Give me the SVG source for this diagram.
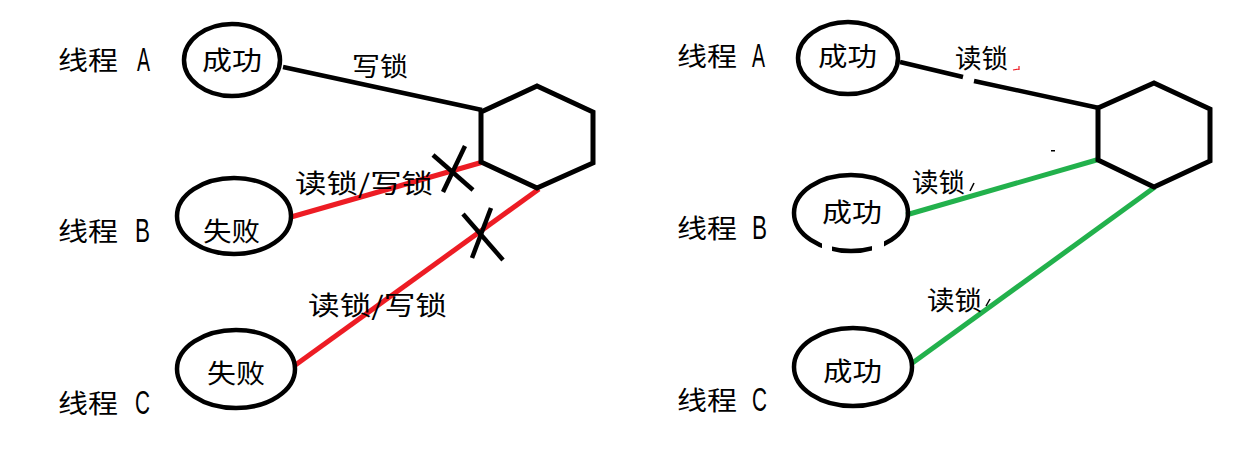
<svg xmlns="http://www.w3.org/2000/svg" width="1234" height="472" viewBox="0 0 1234 472">
<style>
.cjk{font-family:"Noto Sans CJK SC","Noto Sans",sans-serif;font-size:26px;fill:#000}
.lat{font-family:"Liberation Sans","DejaVu Sans",sans-serif;font-size:34px;fill:#000}
.node{fill:none;stroke:#000;stroke-width:4.5}
.hex{fill:none;stroke:#000;stroke-width:5;stroke-linejoin:miter}
.blk{stroke:#000;stroke-width:4.5;fill:none}
.red{stroke:#ED1C24;stroke-width:5;fill:none}
.grn{stroke:#22B14C;stroke-width:5;fill:none}
.x{stroke:#000;stroke-width:4.5;fill:none}
</style>
<rect width="1234" height="472" fill="#fff"/>

<!-- Left panel -->
<g id="left-labels">
<text class="cjk" x="58" y="70" textLength="60" lengthAdjust="spacingAndGlyphs">线程</text>
<text class="lat" x="137" y="71" textLength="13" lengthAdjust="spacingAndGlyphs">A</text>
<text class="cjk" x="58" y="241" textLength="60" lengthAdjust="spacingAndGlyphs">线程</text>
<text class="lat" x="135" y="242" textLength="15" lengthAdjust="spacingAndGlyphs">B</text>
<text class="cjk" x="58" y="413" textLength="60" lengthAdjust="spacingAndGlyphs">线程</text>
<text class="lat" x="135" y="414" textLength="15" lengthAdjust="spacingAndGlyphs">C</text>
</g>

<g id="left-connectors">
<line class="blk" x1="283" y1="67" x2="482" y2="110"/>
<line class="red" x1="291" y1="217" x2="483" y2="162"/>
<line class="red" x1="294" y1="366" x2="539" y2="189"/>
<line class="x" x1="433" y1="155" x2="473" y2="190"/>
<line class="x" x1="465" y1="146" x2="443" y2="192"/>
<line class="x" x1="463" y1="214" x2="503" y2="260"/>
<line class="x" x1="491" y1="208" x2="472" y2="258"/>
<text class="cjk" x="352" y="76" textLength="56" lengthAdjust="spacingAndGlyphs">写锁</text>
<text class="cjk" x="295" y="193" textLength="138" lengthAdjust="spacingAndGlyphs">读锁/写锁</text>
<text class="cjk" x="308" y="315" textLength="139" lengthAdjust="spacingAndGlyphs">读锁/写锁</text>
</g>

<g id="left-A">
<ellipse class="node" cx="232" cy="60" rx="48" ry="36"/>
<text class="cjk" x="202" y="70" textLength="60" lengthAdjust="spacingAndGlyphs">成功</text>
</g>
<g id="left-B">
<ellipse class="node" cx="234" cy="216" rx="57" ry="38"/>
<text class="cjk" x="203" y="241" textLength="57" lengthAdjust="spacingAndGlyphs">失败</text>
</g>
<g id="left-C">
<ellipse class="node" cx="236" cy="369" rx="59" ry="39"/>
<text class="cjk" x="207" y="383" textLength="58" lengthAdjust="spacingAndGlyphs">失败</text>
</g>
<g id="left-lock">
<polygon class="hex" points="481,112 537,86 593,112 593,163 537,188 481,162"/>
</g>

<!-- Right panel -->
<g id="right-labels">
<text class="cjk" x="677" y="66" textLength="60" lengthAdjust="spacingAndGlyphs">线程</text>
<text class="lat" x="752" y="67" textLength="13" lengthAdjust="spacingAndGlyphs">A</text>
<text class="cjk" x="677" y="238" textLength="60" lengthAdjust="spacingAndGlyphs">线程</text>
<text class="lat" x="752" y="239" textLength="15" lengthAdjust="spacingAndGlyphs">B</text>
<text class="cjk" x="677" y="410" textLength="60" lengthAdjust="spacingAndGlyphs">线程</text>
<text class="lat" x="752" y="411" textLength="15" lengthAdjust="spacingAndGlyphs">C</text>
</g>

<g id="right-connectors">
<line class="blk" x1="900" y1="62" x2="963" y2="77"/>
<line class="blk" x1="974" y1="81" x2="1099" y2="108"/>
<line class="grn" x1="906" y1="215" x2="1100" y2="159"/>
<line class="grn" x1="911" y1="364" x2="1155" y2="187"/>
<text class="cjk" x="955" y="68" textLength="53" lengthAdjust="spacingAndGlyphs">读锁</text>
<path d="M1013,70 L1019,69 M1019,66 L1019,70" stroke="#ED1C24" stroke-width="1.2" fill="none"/>
<text class="cjk" x="912" y="192" textLength="53" lengthAdjust="spacingAndGlyphs">读锁</text>
<path d="M974,183 L970,191" stroke="#000" stroke-width="1.5" fill="none"/>
<text class="cjk" x="927" y="310" textLength="55" lengthAdjust="spacingAndGlyphs">读锁</text>
<path d="M990,299 L986,306" stroke="#000" stroke-width="1.5" fill="none"/>
<rect x="1051" y="150" width="4" height="1.5" fill="#000"/>
</g>

<g id="right-A">
<ellipse class="node" cx="848" cy="58" rx="50" ry="36"/>
<text class="cjk" x="818" y="66" textLength="59" lengthAdjust="spacingAndGlyphs">成功</text>
</g>
<g id="right-B">
<ellipse class="node" cx="851" cy="213" rx="57" ry="38"/>
<rect x="822" y="240" width="10" height="16" fill="#fff"/>
<rect x="872" y="240" width="12" height="16" fill="#fff"/>
<text class="cjk" x="822" y="222" textLength="60" lengthAdjust="spacingAndGlyphs">成功</text>
</g>
<g id="right-C">
<ellipse class="node" cx="853" cy="367" rx="59" ry="39"/>
<text class="cjk" x="823" y="381" textLength="59" lengthAdjust="spacingAndGlyphs">成功</text>
</g>
<g id="right-lock">
<polygon class="hex" points="1098,108 1154,83 1210,109 1210,161 1154,187 1098,160"/>
</g>
</svg>
